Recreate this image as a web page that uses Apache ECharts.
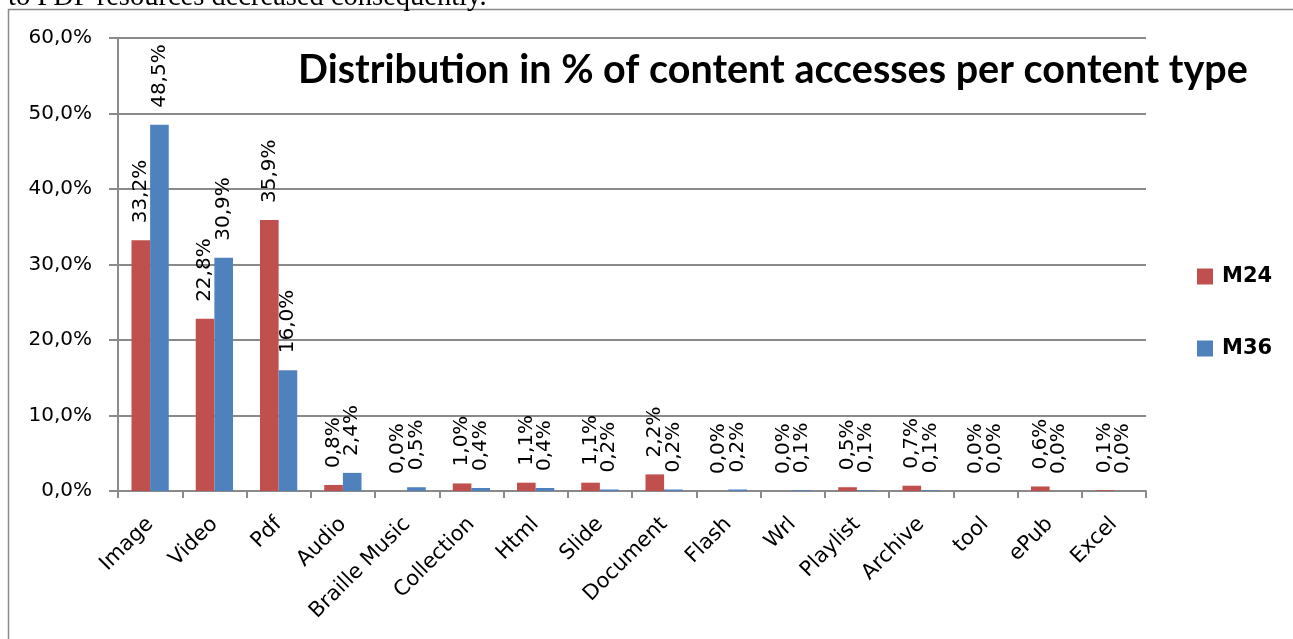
<!DOCTYPE html>
<html>
<head>
<meta charset="utf-8">
<title>Distribution in % of content accesses per content type</title>
<script src="https://cdn.jsdelivr.net/npm/echarts@6/dist/echarts.min.js"></script>
<style>
  html, body { margin: 0; padding: 0; background: #ffffff; }
  #chart { width: 1293px; height: 639px; }
</style>
</head>
<body>
<div id="chart"></div>
<script>
// Content types accessed
const categories = ['Image', 'Video', 'Pdf', 'Audio', 'Braille Music', 'Collection', 'Html', 'Slide',
  'Document', 'Flash', 'Wrl', 'Playlist', 'Archive', 'tool', 'ePub', 'Excel'];

// Share of accesses (%) at month 24 and month 36
const m24 = [33.2, 22.8, 35.9, 0.8, 0.0, 1.0, 1.1, 1.1, 2.2, 0.0, 0.0, 0.5, 0.7, 0.0, 0.6, 0.1];
const m36 = [48.5, 30.9, 16.0, 2.4, 0.5, 0.4, 0.4, 0.2, 0.2, 0.2, 0.1, 0.1, 0.1, 0.0, 0.0, 0.0];

const seriesNames = ['M24', 'M36'];
const titleText = 'Distribution in % of content accesses per content type';
const precedingLine = 'to PDF resources decreased consequently.';

const axisGray = '#8a8a8a';
const labelFont = 'DejaVu Sans';
const pct = v => v.toFixed(1).replace('.', ',') + '%';

const barLabel = {
  show: true,
  position: 'top',
  distance: 17,
  rotate: 90,
  align: 'left',
  verticalAlign: 'middle',
  fontFamily: labelFont,
  fontSize: 20,
  color: '#000',
  formatter: p => pct(p.value)
};

const chart = echarts.init(document.getElementById('chart'), null, { renderer: 'canvas' });

chart.setOption({
  animation: false,
  backgroundColor: '#ffffff',
  color: ['#C0504D', '#4F81BD'],
  graphic: [
    {
      type: 'text',
      left: 8,
      top: -17,
      style: {
        text: precedingLine,
        fontFamily: 'Liberation Serif',
        fontSize: 28.5,
        fill: '#000'
      }
    },
    {
      type: 'rect',
      shape: { x: 8.5, y: 9.5, width: 1400, height: 800 },
      style: { fill: '#ffffff', stroke: '#8a8a8a', lineWidth: 1.5 },
      z: -1
    },
    {
      type: 'text',
      left: 298,
      top: 50,
      style: {
        text: titleText,
        fontFamily: 'Lato',
        fontWeight: 'bold',
        fontSize: 39.5,
        fill: '#000'
      }
    }
  ],
  legend: {
    orient: 'vertical',
    left: 1197,
    top: 266,
    padding: 0,
    itemWidth: 16,
    itemHeight: 16,
    itemGap: 51,
    icon: 'rect',
    data: seriesNames,
    textStyle: {
      fontFamily: labelFont,
      fontWeight: 'bold',
      fontSize: 21,
      color: '#000',
      padding: [0, 0, 0, 4]
    }
  },
  grid: { left: 118, right: 147, top: 38, bottom: 148, containLabel: false },
  xAxis: {
    type: 'category',
    data: categories,
    axisLine: { show: true, lineStyle: { color: axisGray, width: 2 } },
    axisTick: { show: true, length: 7, alignWithLabel: false, lineStyle: { color: axisGray, width: 2 } },
    axisLabel: {
      interval: 0,
      rotate: 45,
      margin: 30,
      fontFamily: labelFont,
      fontSize: 21,
      color: '#000'
    }
  },
  yAxis: {
    type: 'value',
    min: 0,
    max: 60,
    interval: 10,
    axisLine: { show: true, lineStyle: { color: axisGray, width: 2 } },
    axisTick: { show: true, length: 9, lineStyle: { color: axisGray, width: 2 } },
    splitLine: { show: true, lineStyle: { color: axisGray, width: 2 } },
    axisLabel: {
      margin: 26,
      fontFamily: labelFont,
      fontSize: 20,
      color: '#000',
      formatter: v => pct(v)
    }
  },
  series: [
    {
      name: seriesNames[0],
      type: 'bar',
      data: m24,
      barGap: '0%',
      barCategoryGap: '42%',
      label: barLabel
    },
    {
      name: seriesNames[1],
      type: 'bar',
      data: m36,
      barGap: '0%',
      barCategoryGap: '42%',
      label: barLabel
    }
  ]
});
</script>
</body>
</html>
